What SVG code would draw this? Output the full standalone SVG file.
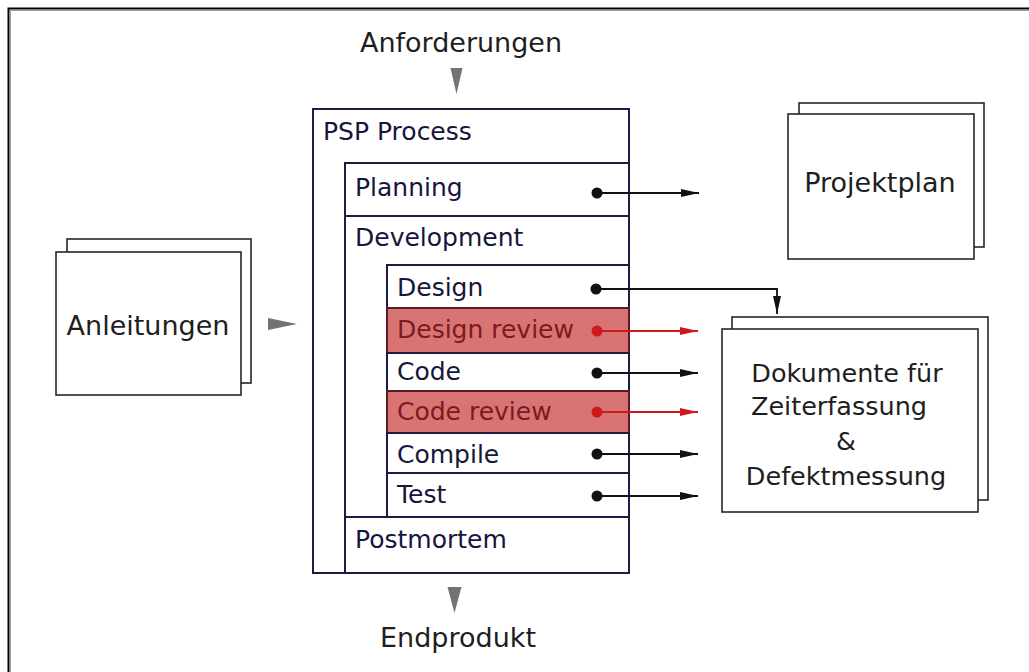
<svg xmlns="http://www.w3.org/2000/svg" width="1029" height="672" viewBox="0 0 1029 672">
  <style>
    .lbl { font-family: "DejaVu Sans", "Liberation Sans", sans-serif; font-size: 27px; fill: #1e1e1e; }
    .doc { font-family: "DejaVu Sans", "Liberation Sans", sans-serif; font-size: 25.5px; fill: #1e1e1e; }
    .psp { font-family: "DejaVu Sans", "Liberation Sans", sans-serif; font-size: 25px; fill: #16163c; }
    .rev { font-family: "DejaVu Sans", "Liberation Sans", sans-serif; font-size: 25px; fill: #7a1a22; }
    .box { fill: #ffffff; stroke: #1c1c44; stroke-width: 2; }
    .hot { fill: #d97474; stroke: #5a1a2a; stroke-width: 2; }
    .sheet { fill: #ffffff; stroke: #262626; stroke-width: 1.6; }
    .flow { fill: #737373; }
    .wire { fill: none; stroke: #111111; stroke-width: 1.8; }
    .wire-red { fill: none; stroke: #cc1a1a; stroke-width: 1.8; }
  </style>
  <defs>
    <marker id="head" viewBox="0 0 18 10" refX="18" refY="5" markerWidth="18" markerHeight="10" markerUnits="userSpaceOnUse" orient="auto">
      <path d="M0,1 L18,5 L0,9 Z" fill="#111111"/>
    </marker>
    <marker id="head-red" viewBox="0 0 18 10" refX="18" refY="5" markerWidth="18" markerHeight="10" markerUnits="userSpaceOnUse" orient="auto">
      <path d="M0,1 L18,5 L0,9 Z" fill="#cc1a1a"/>
    </marker>
  </defs>

  <rect width="1029" height="672" fill="#ffffff"/>
  <!-- frame: left and top edges only -->
  <path d="M8.5,672 V8.5 H1029" fill="none" stroke="#000000" stroke-width="2"/>
  <path d="M10.5,672 V10.5 H1029" fill="none" stroke="#9a9a9a" stroke-width="1"/>

  <!-- input / output labels -->
  <g id="anforderungen">
    <text class="lbl" x="461" y="52" text-anchor="middle">Anforderungen</text>
    <path class="flow" d="M450.5,68 L462.5,68 L456.5,94 Z"/>
  </g>
  <g id="endprodukt">
    <path class="flow" d="M447.5,587 L461.5,587 L454.5,613 Z"/>
    <text class="lbl" x="458" y="647" text-anchor="middle">Endprodukt</text>
  </g>

  <!-- PSP process -->
  <g id="psp-process">
    <rect class="box" x="313" y="109" width="316" height="464"/>
    <text class="psp" x="323" y="140">PSP Process</text>
  </g>
  <g id="planning">
    <rect class="box" x="345" y="163" width="284" height="53"/>
    <text class="psp" x="355" y="196">Planning</text>
  </g>
  <g id="development">
    <rect class="box" x="345" y="216" width="284" height="301"/>
    <text class="psp" x="355" y="246">Development</text>
  </g>
  <g id="design">
    <rect class="box" x="387" y="265" width="242" height="43"/>
    <text class="psp" x="397" y="296">Design</text>
  </g>
  <g id="design-review">
    <rect class="hot" x="387" y="308" width="242" height="45"/>
    <text class="rev" x="397" y="338">Design review</text>
  </g>
  <g id="code">
    <rect class="box" x="387" y="353" width="242" height="38"/>
    <text class="psp" x="397" y="380">Code</text>
  </g>
  <g id="code-review">
    <rect class="hot" x="387" y="391" width="242" height="42"/>
    <text class="rev" x="397" y="420">Code review</text>
  </g>
  <g id="compile">
    <rect class="box" x="387" y="433" width="242" height="40"/>
    <text class="psp" x="397" y="463">Compile</text>
  </g>
  <g id="test">
    <rect class="box" x="387" y="473" width="242" height="44"/>
    <text class="psp" x="397" y="503">Test</text>
  </g>
  <g id="postmortem">
    <rect class="box" x="345" y="517" width="284" height="56"/>
    <text class="psp" x="355" y="548">Postmortem</text>
  </g>

  <!-- stacked documents -->
  <g id="anleitungen">
    <rect class="sheet" x="67" y="239" width="184" height="144"/>
    <rect class="sheet" x="56" y="252" width="185" height="143"/>
    <text class="lbl" x="148" y="335" text-anchor="middle">Anleitungen</text>
    <path class="flow" d="M268,318 L297,324 L268,330 Z"/>
  </g>
  <g id="projektplan">
    <rect class="sheet" x="799" y="103" width="185" height="144"/>
    <rect class="sheet" x="788" y="114" width="186" height="145"/>
    <text class="lbl" x="880" y="192" text-anchor="middle">Projektplan</text>
  </g>
  <g id="dokumente">
    <rect class="sheet" x="732" y="317" width="256" height="183"/>
    <rect class="sheet" x="722" y="329" width="256" height="183"/>
    <text class="doc" x="847" y="382" text-anchor="middle">Dokumente für</text>
    <text class="doc" x="839" y="415" text-anchor="middle">Zeiterfassung</text>
    <text class="doc" x="846" y="450" text-anchor="middle">&amp;</text>
    <text class="doc" x="846" y="485" text-anchor="middle">Defektmessung</text>
  </g>

  <!-- connectors -->
  <g id="connectors">
    <circle cx="597" cy="193" r="5.5" fill="#111111"/>
    <path class="wire" d="M597,193 H699" marker-end="url(#head)"/>

    <circle cx="596" cy="289" r="5.5" fill="#111111"/>
    <path class="wire" d="M596,289 H777 V314" marker-end="url(#head)"/>

    <circle cx="597" cy="331" r="5.5" fill="#cc1a1a"/>
    <path class="wire-red" d="M597,331 H698" marker-end="url(#head-red)"/>

    <circle cx="597" cy="373" r="5.5" fill="#111111"/>
    <path class="wire" d="M597,373 H698" marker-end="url(#head)"/>

    <circle cx="597" cy="412" r="5.5" fill="#cc1a1a"/>
    <path class="wire-red" d="M597,412 H698" marker-end="url(#head-red)"/>

    <circle cx="597" cy="454" r="5.5" fill="#111111"/>
    <path class="wire" d="M597,454 H698" marker-end="url(#head)"/>

    <circle cx="597" cy="496" r="5.5" fill="#111111"/>
    <path class="wire" d="M597,496 H698" marker-end="url(#head)"/>
  </g>
</svg>
